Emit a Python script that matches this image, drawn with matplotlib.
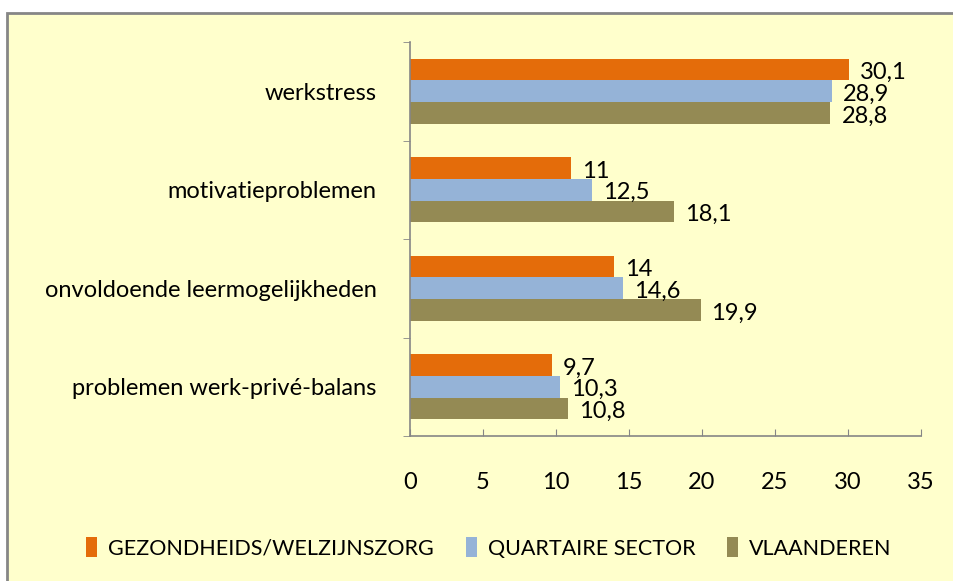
import matplotlib.pyplot as plt
import numpy as np
from matplotlib.patches import Rectangle

categories = ['werkstress', 'motivatieproblemen', 'onvoldoende leermogelijkheden', 'problemen werk-privé-balans']
zorg = [30.1, 11, 14, 9.7]
quartair = [28.9, 12.5, 14.6, 10.3]
vlaanderen = [28.8, 18.1, 19.9, 10.8]
series_names = ['GEZONDHEIDS/WELZIJNSZORG', 'QUARTAIRE SECTOR', 'VLAANDEREN']
colors = ['#E46C0A', '#95B3D7', '#948A54']

plt.rcParams['font.family'] = ['Lato', 'DejaVu Sans']
fs = 17

bg = '#FFFFCC'
fig = plt.figure(figsize=(9.54, 5.81), dpi=100, facecolor='white')
fig.patches.append(Rectangle((7 / 954, -0.05), 1.0, 1 - 13 / 581 + 0.05, transform=fig.transFigure,
                             facecolor=bg, edgecolor='#868686', linewidth=2, zorder=-1))

ax = fig.add_axes([410 / 954, 1 - 436 / 581, (921 - 410) / 954, (436 - 42) / 581])
ax.set_facecolor(bg)
ax.patch.set_alpha(0)

n = len(categories)
y = np.arange(n)[::-1].astype(float)
h = 0.22
for i, vals in enumerate([zorg, quartair, vlaanderen]):
    pos = y + h - i * h
    ax.barh(pos, vals, height=h, color=colors[i], label=series_names[i])
    for p, v in zip(pos, vals):
        txt = str(v).replace('.', ',')
        ax.text(v + 0.75, p - 0.03, txt, va='center', ha='left', fontsize=fs)

ax.set_xlim(0, 35)
ax.set_ylim(-0.5, n - 0.5)
ax.set_xticks(range(0, 36, 5))
ax.set_yticks(y)
ax.set_yticklabels(categories, fontsize=fs)
ax.set_yticks(np.arange(-0.5, n, 1.0), minor=True)
ax.tick_params(axis='y', which='major', length=0, pad=24)
ax.tick_params(axis='y', which='minor', length=5, color='#868686', direction='out')
ax.tick_params(axis='x', length=5, color='#868686', direction='in', labelsize=fs, pad=26)
for s in ['top', 'right']:
    ax.spines[s].set_visible(False)
for s in ['left', 'bottom']:
    ax.spines[s].set_color('#868686')
    ax.spines[s].set_linewidth(1.2)

handles, labels = ax.get_legend_handles_labels()
fig.legend(handles, labels, loc='center', bbox_to_anchor=(489 / 954, 1 - 548 / 581), ncol=3,
           frameon=False, fontsize=15.5, handlelength=0.5, handleheight=1.0, handletextpad=0.5,
           columnspacing=1.5)

fig.savefig('out.png', dpi=100, facecolor='white')
